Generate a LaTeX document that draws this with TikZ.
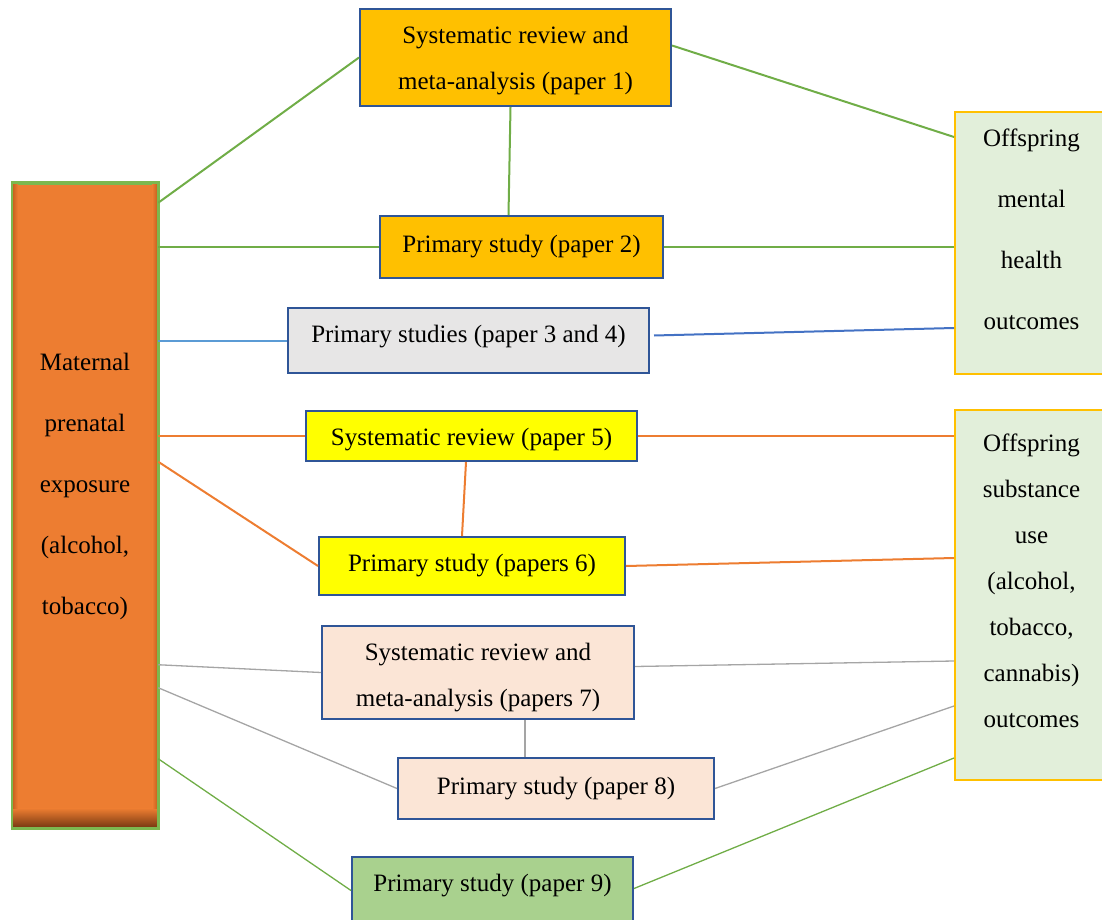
\documentclass[tikz,border=0pt]{standalone}
\usepackage{fontspec}
\setmainfont{Liberation Serif}
\definecolor{cOrange}{HTML}{ED7D31}
\definecolor{cBrown}{HTML}{7A3A12}
\definecolor{cOrangeD}{HTML}{C9631F}
\definecolor{cGreen}{HTML}{70AD47}
\definecolor{cLGreenB}{HTML}{7CB84F}
\definecolor{cGold}{HTML}{FFC000}
\definecolor{cYellow}{HTML}{FFFF00}
\definecolor{cBorder}{HTML}{2F5597}
\definecolor{cGrayF}{HTML}{E7E6E6}
\definecolor{cPeach}{HTML}{FBE5D6}
\definecolor{cGreenF}{HTML}{A9D18E}
\definecolor{cMint}{HTML}{E2EFDA}
\definecolor{cBlueL}{HTML}{5B9BD5}
\definecolor{cBlue}{HTML}{4472C4}
\definecolor{cGrayL}{HTML}{A5A5A5}
\newcommand{\lowertext}[2]{\raisebox{-#1}[\height][\depth]{\begin{tabular}{@{}c@{}}#2\end{tabular}}}
\begin{document}
\begin{tikzpicture}[x=1pt,y=-1pt,
  paperbox/.style={draw=cBorder, line width=2pt, inner sep=0pt, align=center,
    font=\fontsize{25}{46}\selectfont},
  outbox/.style={draw=cGold, line width=2pt, fill=cMint, inner sep=0pt},
  txt/.style={align=center, inner sep=0pt},
  gline/.style={cGreen, line width=2pt},
  oline/.style={cOrange, line width=2pt},
  grline/.style={cGrayL, line width=1.3pt},
  thin green/.style={cGreen, line width=1.3pt}]
\useasboundingbox (0,0) rectangle (1102,920);
\clip (0,0) rectangle (1102,920);

% left box
\node[draw=cLGreenB, line width=2.5pt, fill=cOrange, minimum width=144pt, minimum height=643pt, inner sep=0pt] (L) at (85,505.5) {};
\shade[top color=cOrange, bottom color=cBrown] ([xshift=1.25pt,yshift=20pt]L.south west) rectangle ([xshift=-1.25pt,yshift=1.25pt]L.south east);
\shade[left color=cOrangeD, right color=cOrange] ([xshift=1.25pt,yshift=-1.25pt]L.north west) rectangle ([xshift=6pt,yshift=20pt]L.south west);
\shade[left color=cOrange, right color=cOrangeD] ([xshift=-6pt,yshift=-1.25pt]L.north east) rectangle ([xshift=-1.25pt,yshift=20pt]L.south east);
\draw[cLGreenB, line width=2.5pt] (L.south west) rectangle (L.north east);
\node[txt, font=\fontsize{25}{61}\selectfont] (Ltext) at (85,486.5) {Maternal\\prenatal\\exposure\\(alcohol,\\tobacco)};

% right boxes
\node[outbox, minimum width=153pt, minimum height=262pt] (R1) at (1031.5,243) {};
\node[txt, font=\fontsize{25}{61}\selectfont] (R1text) at (1031.5,229.5) {Offspring\\mental\\health\\outcomes};
\node[outbox, minimum width=153pt, minimum height=370pt] (R2) at (1031.5,595) {};
\node[txt, font=\fontsize{25}{46}\selectfont] (R2text) at (1031.5,580.5) {Offspring\\substance\\use\\(alcohol,\\tobacco,\\cannabis)\\outcomes};

% paper boxes
\node[paperbox, fill=cGold, minimum width=311pt, minimum height=97pt] (b1) at (515.5,57.5) {\lowertext{0pt}{Systematic review and\\meta-analysis (paper 1)}};
\node[paperbox, fill=cGold, minimum width=283pt, minimum height=62pt] (b2) at (521.5,247) {Primary study (paper 2)};
\node[paperbox, fill=cGrayF, minimum width=361pt, minimum height=65pt, text height=15pt, text depth=12pt] (b3) at (468.5,340.5) {Primary studies (paper 3 and 4)};
\node[paperbox, fill=cYellow, minimum width=331pt, minimum height=50pt] (b5) at (471.5,436) {\lowertext{0pt}{Systematic review (paper 5)}};
\node[paperbox, fill=cYellow, minimum width=306pt, minimum height=58pt] (b6) at (472,566) {Primary study (papers 6)};
\node[paperbox, fill=cPeach, minimum width=312pt, minimum height=93pt] (b7) at (478,672.5) {\lowertext{2pt}{Systematic review and\\meta-analysis (papers 7)}};
\node[paperbox, fill=cPeach, minimum width=316pt, minimum height=61pt] (b8) at (556,788.5) {Primary study (paper 8)};
\node[paperbox, fill=cGreenF, minimum width=281pt, minimum height=73pt, text height=15pt, text depth=20pt] (b9) at (492.5,893.5) {Primary study (paper 9)};

% connectors: mental health
\draw[gline] ([yshift=-20pt]L.north east) -- (b1.west);
\draw[gline] ([yshift=12pt]b1.east) -- ([yshift=-26pt]R1.north west);
\draw[gline] ([xshift=-5pt]b1.south) -- ([xshift=-13pt]b2.north);
\draw[gline] (L.east |- b2.west) -- (b2.west);
\draw[gline] (b2.east) -- (R1.west |- b2.east);
\draw[cBlueL, line width=2pt] (L.east |- b3.west) -- (b3.west);
\draw[cBlue, line width=2pt] ([xshift=4pt,yshift=5pt]b3.east) -- ([yshift=-217pt]R1.north west);

% substance use
\draw[oline] (L.east |- b5.west) -- (b5.west);
\draw[oline] (b5.east) -- (R2.west |- b5.east);
\draw[oline] ([xshift=-5.5pt]b5.south) -- ([xshift=-10pt]b6.north);
\draw[oline] ([yshift=-279pt]L.north east) -- (b6.west);
\draw[oline] (b6.east) -- ([yshift=-149pt]R2.north west);

\draw[grline] ([yshift=-482pt]L.north east) -- (b7.west);
\draw[grline] ([yshift=6pt]b7.east) -- ([yshift=-252pt]R2.north west);
\draw[grline] ([xshift=47pt]b7.south) -- ([xshift=-31pt]b8.north);
\draw[grline] ([yshift=-505pt]L.north east) -- (b8.west);
\draw[grline] (b8.east) -- ([yshift=-297pt]R2.north west);

\draw[thin green] ([yshift=-576pt]L.north east) -- ([yshift=3pt]b9.west);
\draw[thin green] ([yshift=5pt]b9.east) -- ([yshift=-349pt]R2.north west);
\end{tikzpicture}
\end{document}
